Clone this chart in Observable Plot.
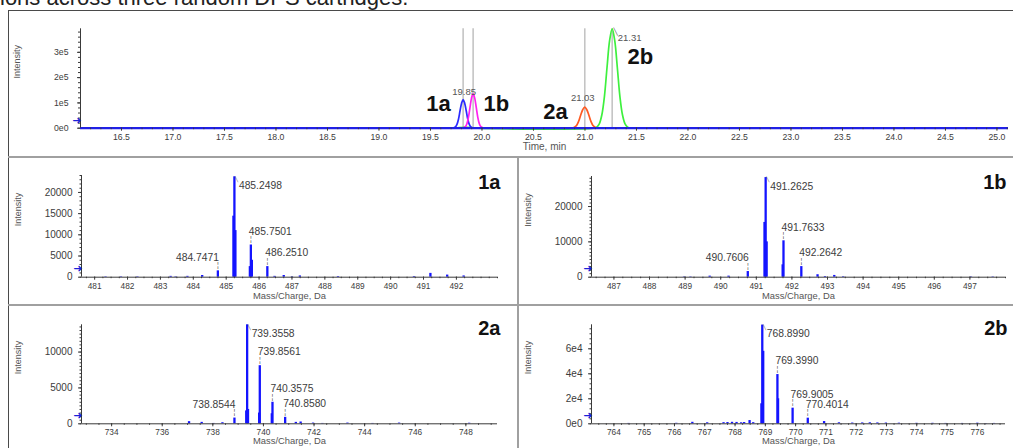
<!DOCTYPE html>
<html>
<head>
<meta charset="utf-8">
<script src="https://cdn.jsdelivr.net/npm/d3@7"></script>
<script src="https://cdn.jsdelivr.net/npm/@observablehq/plot@0.6"></script>
<style>
  html, body { margin: 0; padding: 0; background: #fff; }
  #root { position: relative; width: 1013px; height: 448px; overflow: hidden; background: #fff;
          font-family: "Liberation Sans", Arial, sans-serif; }
  #caption { position: absolute; left: 0px; top: -12.6px; font-size: 22px; line-height: 22px;
             color: #222; white-space: nowrap; }
  .ln { position: absolute; }
  .panel { position: absolute; }
  .panel svg { display: block; overflow: visible; }
</style>
</head>
<body>
<div id="root">
  <div id="caption"></div>
</div>
<script>
// ---------------- DATA ----------------
const captionText = "ions across three random DPS cartridges.";

// Chromatogram (XIC) – time in min, intensity in counts
const chromTicksX = [16.5, 17.0, 17.5, 18.0, 18.5, 19.0, 19.5, 20.0, 20.5, 21.0, 21.5, 22.0, 22.5, 23.0, 23.5, 24.0, 24.5, 25.0];
const chromTicksY = [0, 100000, 200000, 300000];
const chromXLabel = "Time, min";
const chromYLabel = "Intensity";

const trace1aTime = [19.717, 19.742, 19.757, 19.772, 19.787, 19.802, 19.817, 19.832, 19.847, 19.862, 19.877, 19.892, 19.917];
const trace1aInt  = [0, 5000, 15000, 36000, 69000, 99000, 113000, 99000, 69000, 36000, 15000, 5000, 0];
const trace1bTime = [19.814, 19.839, 19.854, 19.869, 19.884, 19.899, 19.914, 19.929, 19.944, 19.959, 19.974, 19.989, 20.014];
const trace1bInt  = [0, 6000, 18000, 44000, 83000, 120000, 136000, 120000, 83000, 44000, 18000, 6000, 0];
const trace2aTime = [20.868, 20.898, 20.918, 20.938, 20.958, 20.978, 20.998, 21.018, 21.038, 21.058, 21.078, 21.098, 21.128];
const trace2aInt  = [0, 4000, 11000, 27000, 51000, 73000, 83000, 73000, 51000, 27000, 11000, 4000, 0];
const trace2bTime = [19.74, 19.78, 19.86, 19.92, 19.96, 21.084, 21.114, 21.139, 21.164, 21.189, 21.214, 21.239, 21.264, 21.289, 21.314, 21.339, 21.364, 21.389, 21.414, 21.444];
const trace2bInt  = [0, 2500, 3000, 1500, 0, 0, 4000, 17000, 53000, 126000, 240000, 346000, 393000, 346000, 240000, 126000, 53000, 17000, 4000, 0];

const compoundNames = ["1a", "1b", "2a", "2b"];
const apexLabels    = ["19.85", "", "21.03", "21.31"];

// Mass spectra – m/z (Da) and intensity (counts)
const msXLabel = "Mass/Charge, Da";
const msYLabel = "Intensity";

const ms1aMz  = [481.33, 481.8, 482.3, 483.31, 483.46, 483.82, 484.27, 484.7471, 485.22, 485.2498, 485.28, 485.72, 485.7501, 485.78, 486.2510, 486.47, 486.75, 487.0, 487.24, 488.4, 490.71, 491.21, 491.72, 492.22];
const ms1aInt = [100, 100, 100, 200, 100, 200, 400, 1500, 14400, 23700, 11000, 2500, 7600, 4000, 2500, 200, 400, 100, 300, 150, 150, 900, 500, 300];
const ms1aLabeled = [484.7471, 485.2498, 485.7501, 486.2510];
const ms1aTicksX = [481, 482, 483, 484, 485, 486, 487, 488, 489, 490, 491, 492];
const ms1aTicksY = [0, 5000, 10000, 15000, 20000];

const ms1bMz  = [488.97, 489.15, 489.69, 490.22, 490.7606, 491.23, 491.2625, 491.29, 491.74, 491.7633, 492.2642, 492.72, 492.93, 493.19, 493.44, 497.03, 497.64];
const ms1bInt = [100, 100, 300, 300, 1600, 15500, 28200, 10000, 3500, 10300, 3000, 700, 200, 500, 150, 100, 100];
const ms1bLabeled = [490.7606, 491.2625, 491.7633, 492.2642];
const ms1bTicksX = [487, 488, 489, 490, 491, 492, 493, 494, 495, 496, 497];
const ms1bTicksY = [0, 10000, 20000];

const ms2aMz  = [737.06, 737.56, 738.03, 738.38, 738.8544, 739.32, 739.3558, 739.39, 739.83, 739.8561, 740.33, 740.3575, 740.8580, 741.28, 741.47, 741.96, 742.33, 743.32, 744.31, 745.36, 748.13];
const ms2aInt = [300, 200, 50, 150, 800, 1800, 13800, 2000, 1500, 8100, 1400, 3000, 900, 200, 250, 100, 50, 100, 50, 100, 80];
const ms2aLabeled = [738.8544, 739.3558, 739.8561, 740.3575, 740.8580];
const ms2aTicksX = [734, 736, 738, 740, 742, 744, 746, 748];
const ms2aTicksY = [0, 5000, 10000];

const ms2bMz  = [764.48, 766.06, 766.59, 767.08, 767.62, 767.75, 767.9, 768.05, 768.2, 768.3, 768.48, 768.6, 768.87, 768.8990, 768.93, 769.3990, 769.42, 769.9005, 770.4014, 770.94, 771.43, 771.87, 772.2, 772.45, 772.7, 772.98, 773.41, 773.99, 774.52, 774.95, 775.5, 776.0, 776.28, 776.55];
const ms2bInt = [300, 400, 1200, 800, 900, 1000, 1200, 1100, 800, 1000, 2600, 900, 16000, 79000, 58000, 39400, 20000, 12500, 4500, 1800, 800, 600, 700, 800, 700, 600, 500, 400, 400, 300, 300, 500, 200, 300];
const ms2bLabeled = [768.8990, 769.3990, 769.9005, 770.4014];
const ms2bTicksX = [764, 765, 766, 767, 768, 769, 770, 771, 772, 773, 774, 775, 776];
const ms2bTicksY = [0, 20000, 40000, 60000];

// ---------------- RENDER ----------------
const root = document.getElementById("root");
document.getElementById("caption").textContent = captionText;

function line(css) { const d = document.createElement("div"); d.className = "ln"; d.style.cssText = css; root.appendChild(d); }
function place(svg, left, top) {
  const d = document.createElement("div"); d.className = "panel";
  d.style.left = left + "px"; d.style.top = top + "px";
  d.appendChild(svg); root.appendChild(d);
}

const FONT = "Liberation Sans, Arial, sans-serif";
const BLUE = "#1414ff";
const AXIS = "#3a3a3a";
const TXT = "#3c3c3c";

// frame / separators
line("left:8px;top:9.5px;width:1010px;height:0;border-top:1.6px solid #4a4a4a;");
line("left:7.5px;top:10px;width:0;height:440px;border-left:1.6px solid #4a4a4a;");
line("left:8px;top:156px;width:1010px;height:0;border-top:2px solid #a0a0a0;");
line("left:8px;top:303.5px;width:1010px;height:0;border-top:2px solid #a0a0a0;");
line("left:517px;top:157px;width:0;height:300px;border-left:2px solid #a0a0a0;");

// ---- chromatogram ----
const traces = [
  {t: trace2bTime, v: trace2bInt, c: "#3ef03e"},
  {t: trace2aTime, v: trace2aInt, c: "#ff5a22"},
  {t: trace1aTime, v: trace1aInt, c: "#2a2aff"},
  {t: trace1bTime, v: trace1bInt, c: "#ff22f0"}
];
const traceByName = [traces[2], traces[3], traces[1], traces[0]]; // 1a,1b,2a,2b
const apexT = traceByName.map(tr => tr.t[d3.maxIndex(tr.v)]);
const apexV = traceByName.map(tr => d3.max(tr.v));

const chromX = [16.102, 25.112];
const nameOffsets = [ {a: "end", dx: -12.5, dy: 4}, {a: "start", dx: 10.5, dy: 9.7}, {a: "end", dx: -17, dy: 4.3}, {a: "start", dx: 15.3, dy: 28.3} ];
const apexLabOffsets = [ {a: "middle", dx: 1, dy: -7.5}, null, {a: "middle", dx: -2, dy: -9}, {a: "start", dx: 5.5, dy: 9} ];

const chromMarks = [
  Plot.ruleX(apexT, {stroke: "#c4c4c4", strokeWidth: 1.6}),
  ...traces.map(tr => Plot.line(tr.t.map((t, i) => ({t, v: tr.v[i]})), {x: "t", y: "v", stroke: tr.c, strokeWidth: 1.7, curve: "catmull-rom"})),
  Plot.ruleY([0], {stroke: "#2020e6", strokeWidth: 2.3}),
  Plot.ruleX([chromX[0]], {stroke: AXIS, strokeWidth: 1}),
  Plot.axisY({ticks: chromTicksY, tickFormat: d => d === 0 ? "0e0" : (d / 1e5) + "e5", tickSize: 3, tickPadding: 9, fontSize: 8.7, stroke: AXIS, fill: TXT, label: null}),
  Plot.axisY({interval: 20000, tickSize: 2, tickFormat: () => "", stroke: AXIS, label: null}),
  Plot.axisX({ticks: chromTicksX, tickFormat: d3.format(".1f"), tickSize: 3, tickPadding: 3, fontSize: 8.7, stroke: AXIS, fill: TXT, label: null}),
  Plot.axisX({interval: 0.1, tickSize: 1.5, tickFormat: () => "", stroke: AXIS, label: null}),
  Plot.text(["➜"], {frameAnchor: "bottom-left", textAnchor: "end", dx: 1, dy: -4, fontSize: 11, fill: "#1a22d8", fontFamily: "DejaVu Sans"}),
  Plot.text([chromXLabel], {frameAnchor: "bottom", dy: 22, fontSize: 10, fill: "#555"}),
  Plot.text([chromYLabel], {frameAnchor: "left", rotate: -90, dx: -63, fontSize: 9, fill: "#555"}),
  ...compoundNames.map((n, i) => Plot.text([i], {x: j => apexT[j], y: j => apexV[j], text: () => n,
      textAnchor: nameOffsets[i].a, dx: nameOffsets[i].dx, dy: nameOffsets[i].dy, fontSize: 22, fontWeight: "bold", fill: "#111"})),
  ...apexLabels.map((s, i) => s ? Plot.text([i], {x: j => apexT[j], y: j => apexV[j], text: () => s,
      textAnchor: apexLabOffsets[i].a, dx: apexLabOffsets[i].dx, dy: apexLabOffsets[i].dy, fontSize: 9.5, fill: "#555"}) : null).filter(Boolean),
  Plot.text([3], {x: j => apexT[j], y: j => apexV[j], text: () => "╲", dx: 3.5, dy: 2.5, fontSize: 7, fill: "#555", fontFamily: "DejaVu Sans"})
];

place(Plot.plot({
  width: 1005, height: 147,
  marginLeft: 72, marginRight: 5, marginTop: 18.3, marginBottom: 29.3,
  style: {fontFamily: FONT, background: "transparent", overflow: "visible"},
  x: {domain: chromX},
  y: {domain: [0, 393000]},
  marks: chromMarks
}), 8, 10);

// ---- mass spectra ----
function spectrum(o) {
  const sticks = o.mz.map((m, i) => ({m, v: o.int[i]}));
  const labs = o.labeled.map(m => ({m, v: o.int[o.mz.indexOf(m)]}));
  const main = labs[d3.maxIndex(labs, d => d.v)];
  const before = labs.filter(d => d.m < main.m);
  const after = labs.filter(d => d.m > main.m);
  const fmt4 = d3.format(".4f");
  const marks = [
    Plot.ruleX(sticks, {x: "m", y1: 0, y2: "v", stroke: BLUE, strokeWidth: 2.3}),
    Plot.ruleY([0], {stroke: AXIS, strokeWidth: 1}),
    Plot.ruleX([o.xDomain[0]], {stroke: AXIS, strokeWidth: 1}),
    Plot.axisY({ticks: o.ticksY, tickFormat: o.yFmt, tickSize: 3, tickPadding: 6, fontSize: 10, stroke: AXIS, fill: TXT, label: null}),
    Plot.axisY({interval: o.yMinor, tickSize: 1.5, tickFormat: () => "", stroke: AXIS, label: null}),
    Plot.axisX({ticks: o.ticksX, tickFormat: d3.format("d"), tickSize: 3, tickPadding: 2.5, fontSize: 8.3, stroke: AXIS, fill: TXT, label: null}),
    Plot.axisX({interval: o.xMinor, tickSize: 1.5, tickFormat: () => "", stroke: AXIS, label: null}),
    Plot.text(["➜"], {frameAnchor: "bottom-left", textAnchor: "end", dx: 1, dy: -5, fontSize: 11, fill: "#1a22d8", fontFamily: "DejaVu Sans"}),
    Plot.text([msXLabel], {frameAnchor: "bottom", dy: o.xLabDy, fontSize: 9.4, fill: "#555"}),
    Plot.text([msYLabel], {frameAnchor: "left", rotate: -90, dx: -63, fontSize: 9, fill: "#555"}),
    Plot.text([o.name], {frameAnchor: "top-right", textAnchor: "end", dx: o.nameDx, dy: o.nameDy, fontSize: 20, fontWeight: "bold", fill: "#111"}),
    // main peak label with connector
    Plot.text([main], {x: "m", y: "v", text: d => fmt4(d.m), textAnchor: "start", dx: 4.5, dy: 9, fontSize: 10.3, fill: TXT}),
    Plot.text([main], {x: "m", y: "v", text: () => "╲", dx: 2.2, dy: 2.2, fontSize: 5, fill: "#555", fontFamily: "DejaVu Sans"}),
    // other labels
    Plot.text(after, {x: "m", y: "v", text: d => fmt4(d.m), textAnchor: "start", dx: -2, dy: -13.5, fontSize: 10.3, fill: TXT}),
    Plot.text(before, {x: "m", y: "v", text: d => fmt4(d.m), textAnchor: "end", dx: 1, dy: -13.5, fontSize: 10.3, fill: TXT}),
    Plot.text([...before, ...after], {x: "m", y: "v", text: () => "¦", dy: -6, fontSize: 7, fill: "#444"})
  ];
  return Plot.plot({
    width: o.w, height: o.h,
    marginLeft: 73, marginRight: o.mR, marginTop: o.mT, marginBottom: o.mB,
    style: {fontFamily: FONT, background: "transparent", overflow: "visible"},
    x: {domain: o.xDomain},
    y: {domain: o.yDomain},
    marks
  });
}

const intFmt = d3.format("d");
const expFmt = d => d === 0 ? "0e0" : (d / 1e4) + "e4";

place(spectrum({mz: ms1aMz, int: ms1aInt, labeled: ms1aLabeled, ticksX: ms1aTicksX, ticksY: ms1aTicksY, yFmt: intFmt,
  xDomain: [480.6, 493.25], yDomain: [0, 24000], xMinor: 0.25, yMinor: 1000, name: "1a",
  w: 510, h: 147, mR: 21, mT: 18, mB: 27.3, xLabDy: 21.5, nameDx: 3, nameDy: -1}), 8, 157);

place(spectrum({mz: ms1bMz, int: ms1bInt, labeled: ms1bLabeled, ticksX: ms1bTicksX, ticksY: ms1bTicksY, yFmt: intFmt,
  xDomain: [486.37, 498.0], yDomain: [0, 28500], xMinor: 0.25, yMinor: 1000, name: "1b",
  w: 495, h: 147, mR: 8, mT: 19, mB: 27.3, xLabDy: 21.5, nameDx: 1, nameDy: -1.5}), 518, 157);

place(spectrum({mz: ms2aMz, int: ms2aInt, labeled: ms2aLabeled, ticksX: ms2aTicksX, ticksY: ms2aTicksY, yFmt: intFmt,
  xDomain: [732.81, 749.25], yDomain: [0, 13800], xMinor: 0.5, yMinor: 500, name: "2a",
  w: 510, h: 144, mR: 21, mT: 20.3, mB: 24.7, xLabDy: 20.5, nameDx: 3, nameDy: -4.5}), 8, 304);

place(spectrum({mz: ms2bMz, int: ms2bInt, labeled: ms2bLabeled, ticksX: ms2bTicksX, ticksY: ms2bTicksY, yFmt: expFmt,
  xDomain: [763.26, 776.93], yDomain: [0, 79200], xMinor: 0.25, yMinor: 4000, name: "2b",
  w: 495, h: 144, mR: 8, mT: 20.3, mB: 24.7, xLabDy: 20.5, nameDx: 2, nameDy: -4.5}), 518, 304);
</script>
</body>
</html>
